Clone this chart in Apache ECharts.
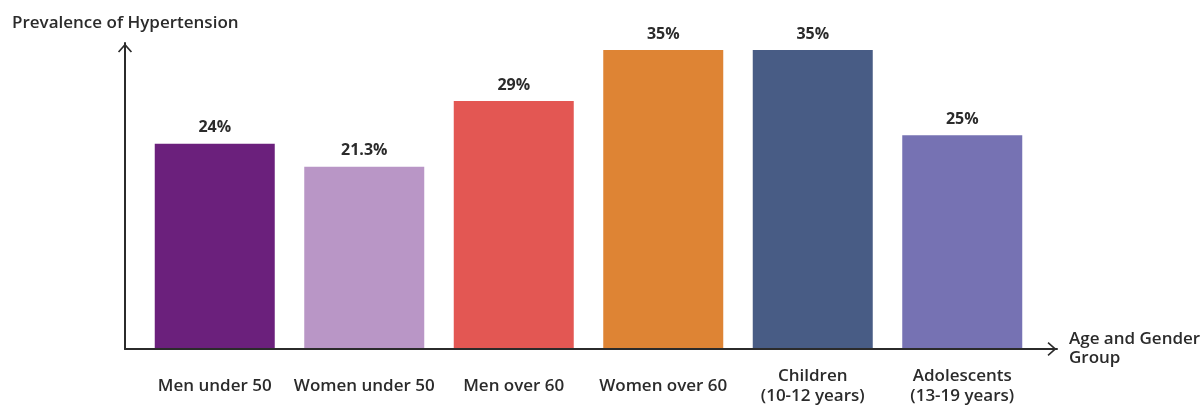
<!DOCTYPE html>
<html>
<head>
<meta charset="utf-8">
<style>
  html, body { margin: 0; padding: 0; background: #ffffff; }
  #chart { width: 1204px; height: 406px; }
</style>
<script src="https://cdn.jsdelivr.net/npm/echarts@6/dist/echarts.min.js"></script>
</head>
<body>
<div id="chart"></div>
<script>
// Hypertension prevalence by age and gender group
const categories = [
  'Men under 50',
  'Women under 50',
  'Men over 60',
  'Women over 60',
  'Children\n(10-12 years)',
  'Adolescents\n(13-19 years)'
];
const prevalence = [24, 21.3, 29, 35, 35, 25];
const valueLabels = ['24%', '21.3%', '29%', '35%', '35%', '25%'];
const barColors = ['#6b207c', '#b996c6', '#e35753', '#de8434', '#485c85', '#7672b3'];

const FONT = '"Open Sans", "DejaVu Sans", sans-serif';
const INK = '#2b2b2b';

// open chevron used as the axis arrow head (points up before rotation)
const chevron = 'path://M0,9 L8,0 L16,9 L14.6,10.2 L8,2.8 L1.4,10.2 Z';

const chart = echarts.init(document.getElementById('chart'), null, { renderer: 'canvas' });

chart.setOption({
  animation: false,
  backgroundColor: '#ffffff',
  title: {
    text: 'Prevalence of Hypertension',
    left: 7,
    top: 10,
    textStyle: { fontFamily: FONT, fontSize: 17, fontWeight: 600, color: INK }
  },
  grid: [
    // plotting area for the bars
    { left: 140, right: 167, top: 50, bottom: 57 },
    // frame carrying the arrowed axes
    { left: 125, right: 147, top: 43, bottom: 57 }
  ],
  xAxis: [
    {
      type: 'category',
      gridIndex: 0,
      data: categories,
      axisLine: { show: false },
      axisTick: { show: false },
      axisLabel: {
        interval: 0,
        margin: 38,
        verticalAlign: 'middle',
        lineHeight: 20,
        fontFamily: FONT,
        fontSize: 17,
        fontWeight: 600,
        color: INK
      }
    },
    {
      type: 'value',
      gridIndex: 1,
      min: 0,
      max: 1,
      axisLine: {
        show: true,
        symbol: ['none', chevron],
        symbolSize: [16, 9],
        symbolOffset: [0, -5],
        lineStyle: { color: INK, width: 2 }
      },
      axisTick: { show: false },
      axisLabel: { show: false },
      splitLine: { show: false },
      name: 'Age and Gender\nGroup',
      nameLocation: 'end',
      nameGap: 12,
      nameTextStyle: {
        fontFamily: FONT,
        fontSize: 17,
        fontWeight: 600,
        color: INK,
        lineHeight: 19,
        align: 'left',
        verticalAlign: 'middle'
      }
    }
  ],
  yAxis: [
    {
      type: 'value',
      gridIndex: 0,
      min: 0,
      max: 35,
      axisLine: { show: false },
      axisTick: { show: false },
      axisLabel: { show: false },
      splitLine: { show: false }
    },
    {
      type: 'value',
      gridIndex: 1,
      min: 0,
      max: 1,
      axisLine: {
        show: true,
        symbol: ['none', chevron],
        symbolSize: [16, 9],
        symbolOffset: [0, -5],
        lineStyle: { color: INK, width: 2 }
      },
      axisTick: { show: false },
      axisLabel: { show: false },
      splitLine: { show: false }
    }
  ],
  series: [
    {
      type: 'bar',
      xAxisIndex: 0,
      yAxisIndex: 0,
      barWidth: 120,
      data: prevalence.map((v, i) => ({ value: v, itemStyle: { color: barColors[i] } })),
      label: {
        show: true,
        position: 'top',
        distance: 8,
        formatter: (p) => valueLabels[p.dataIndex],
        fontFamily: FONT,
        fontSize: 16,
        fontWeight: 700,
        color: INK
      }
    }
  ]
});
</script>
</body>
</html>
